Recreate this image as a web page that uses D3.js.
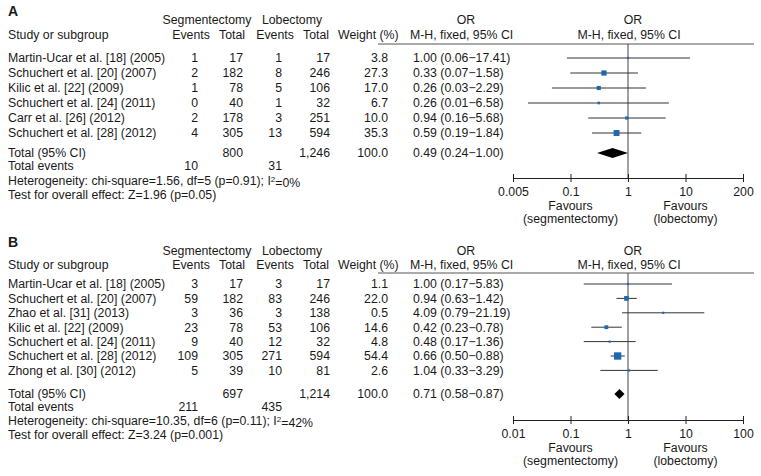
<!DOCTYPE html>
<html><head><meta charset="utf-8">
<script src="https://cdn.jsdelivr.net/npm/d3@7"></script>
<style>
body{margin:0;background:#fff;}
svg text{font-family:"Liberation Sans",Arial,sans-serif;font-size:12.3px;fill:#1a1a1a;}
</style></head><body>
<svg id="chart" width="761" height="476"></svg>
<script>
// ---------- Data: panel A ----------
const studiesA = ["Martin-Ucar et al. [18] (2005)","Schuchert et al. [20] (2007)","Kilic et al. [22] (2009)","Schuchert et al. [24] (2011)","Carr et al. [26] (2012)","Schuchert et al. [28] (2012)"];
const segEventsA = [1,2,1,0,2,4];
const segTotalA  = [17,182,78,40,178,305];
const lobEventsA = [1,8,5,1,3,13];
const lobTotalA  = [17,246,106,32,251,594];
const weightA    = [3.8,27.3,17.0,6.7,10.0,35.3];
const orA        = [1.00,0.33,0.26,0.26,0.94,0.59];
const lowA       = [0.06,0.07,0.03,0.01,0.16,0.19];
const highA      = [17.41,1.58,2.29,6.58,5.68,1.84];
const totalA     = {seg:800, lob:1246, segEv:10, lobEv:31, weight:100.0, or:0.49, lo:0.24, hi:1.00};
const hetA  = ["Heterogeneity: chi-square=1.56, df=5 (p=0.91); I","2","=0%"];
const testA = "Test for overall effect: Z=1.96 (p=0.05)";
const ticksA = ["0.005","0.1","1","10","200"];
const domainA = [0.005,200];

// ---------- Data: panel B ----------
const studiesB = ["Martin-Ucar et al. [18] (2005)","Schuchert et al. [20] (2007)","Zhao et al. [31] (2013)","Kilic et al. [22] (2009)","Schuchert et al. [24] (2011)","Schuchert et al. [28] (2012)","Zhong et al. [30] (2012)"];
const segEventsB = [3,59,3,23,9,109,5];
const segTotalB  = [17,182,36,78,40,305,39];
const lobEventsB = [3,83,3,53,12,271,10];
const lobTotalB  = [17,246,138,106,32,594,81];
const weightB    = [1.1,22.0,0.5,14.6,4.8,54.4,2.6];
const orB        = [1.00,0.94,4.09,0.42,0.48,0.66,1.04];
const lowB       = [0.17,0.63,0.79,0.23,0.17,0.50,0.33];
const highB      = [5.83,1.42,21.19,0.78,1.36,0.88,3.29];
const totalB     = {seg:697, lob:1214, segEv:211, lobEv:435, weight:100.0, or:0.71, lo:0.58, hi:0.87};
const hetB  = ["Heterogeneity: chi-square=10.35, df=6 (p=0.11); I","2","=42%"];
const testB = "Test for overall effect: Z=3.24 (p=0.001)";
const ticksB = ["0.01","0.1","1","10","100"];
const domainB = [0.01,100];

const svg = d3.select("#chart");
const fmtComma = d3.format(",");
const f2 = d3.format(".2f");
const f1 = d3.format(".1f");

function panel(o){
  const g = svg.append("g");
  const t = (x,y,s,anchor)=>g.append("text").attr("x",x).attr("y",y).attr("dy","0.35em")
      .attr("text-anchor",anchor||"start").text(s);
  // label
  t(8,o.labelY,o.label).style("font-weight","bold").style("font-size","14px");
  // headers
  t(207,o.h1,"Segmentectomy","middle");
  t(292,o.h1,"Lobectomy","middle");
  t(466,o.h1,"OR","middle");
  t(633,o.h1,"OR","middle");
  t(8,o.h2,"Study or subgroup");
  t(191,o.h2,"Events","middle");
  t(232,o.h2,"Total","middle");
  t(275,o.h2,"Events","middle");
  t(316,o.h2,"Total","middle");
  t(338,o.h2,"Weight (%)");
  t(410,o.h2,"M-H, fixed, 95% CI");
  t(629,o.h2,"M-H, fixed, 95% CI","middle");
  g.append("line").attr("x1",378).attr("x2",754).attr("y1",o.line).attr("y2",o.line)
    .attr("stroke","#555").attr("stroke-width",1);

  const n = o.studies.length;
  const y = d3.scalePoint().domain(d3.range(n)).range([o.rowStart,o.rowStart+o.rowStep*(n-1)]);
  const x = d3.scaleLog().domain(o.domain).range([513,743]);
  const side = d3.scaleSqrt().domain([0,100]).range([0,10]);

  // text rows
  o.studies.forEach((s,i)=>{
    const yy = y(i);
    t(8,yy,s);
    t(198,yy,o.segEv[i],"end");
    t(243,yy,o.segTot[i],"end");
    t(282,yy,o.lobEv[i],"end");
    t(330,yy,fmtComma(o.lobTot[i]),"end");
    t(388,yy,f1(o.w[i]),"end");
    t(413,yy,`${f2(o.or[i])} (${f2(o.lo[i])}\u2212${f2(o.hi[i])})`);
  });
  // totals
  const T = o.total;
  t(8,o.totY,"Total (95% CI)");
  t(243,o.totY,fmtComma(T.seg),"end");
  t(330,o.totY,fmtComma(T.lob),"end");
  t(388,o.totY,f1(T.weight),"end");
  t(413,o.totY,`${f2(T.or)} (${f2(T.lo)}\u2212${f2(T.hi)})`);
  t(8,o.evY,"Total events");
  t(198,o.evY,T.segEv,"end");
  t(282,o.evY,T.lobEv,"end");
  const het = t(8,o.hetY,o.het[0]);
  het.append("tspan").attr("dy","-0.45em").style("font-size","8px").text(o.het[1]);
  het.append("tspan").attr("dy","0.45em").text(o.het[2]);
  t(8,o.testY,o.test);

  // forest: vertical line at 1
  g.append("line").attr("x1",x(1)).attr("x2",x(1)).attr("y1",o.line).attr("y2",o.axisY)
    .attr("stroke","#444").attr("stroke-width",1);
  // CI lines
  o.studies.forEach((s,i)=>{
    g.append("line").attr("x1",x(o.lo[i])).attr("x2",x(o.hi[i])).attr("y1",y(i)).attr("y2",y(i))
      .attr("stroke","#333").attr("stroke-width",1);
    const sd = Math.max(2.2, side(o.w[i]));
    g.append("rect").attr("x",x(o.or[i])-sd/2).attr("y",y(i)-sd/2).attr("width",sd).attr("height",sd)
      .attr("fill","#2068ad");
  });
  // diamond
  const h = 5;
  g.append("path").attr("d",`M${x(T.lo)},${o.totY}L${x(T.or)},${o.totY-h}L${x(T.hi)},${o.totY}L${x(T.or)},${o.totY+h}Z`)
    .attr("fill","#000");

  // axis (tick labels equally spaced as in reference)
  const xt = d3.scalePoint().domain(o.ticks).range([513,743]);
  const ax = g.append("g").attr("transform",`translate(0,${o.axisY})`)
    .call(d3.axisBottom(xt).tickSize(0).tickPadding(9));
  ax.select(".domain").attr("stroke","#222");
  ax.selectAll(".tick line").attr("y1",-4).attr("y2",4).attr("stroke","#222");
  ax.selectAll("text").attr("font-family",null).attr("font-size",null).attr("fill",null);
  t(xt(o.ticks[1]),o.axisY+28,"Favours","middle");
  t(xt(o.ticks[1]),o.axisY+41,"(segmentectomy)","middle");
  t(xt(o.ticks[3]),o.axisY+28,"Favours","middle");
  t(xt(o.ticks[3]),o.axisY+41,"(lobectomy)","middle");
}

panel({label:"A",labelY:11,h1:20,h2:35,line:44,rowStart:58,rowStep:15,totY:153,evY:166,hetY:181,testY:195,axisY:178,
  studies:studiesA,segEv:segEventsA,segTot:segTotalA,lobEv:lobEventsA,lobTot:lobTotalA,w:weightA,or:orA,lo:lowA,hi:highA,
  total:totalA,het:hetA,test:testA,ticks:ticksA,domain:domainA});
panel({label:"B",labelY:242,h1:251,h2:265,line:273,rowStart:284,rowStep:14.4,totY:394,evY:407,hetY:421,testY:435,axisY:420,
  studies:studiesB,segEv:segEventsB,segTot:segTotalB,lobEv:lobEventsB,lobTot:lobTotalB,w:weightB,or:orB,lo:lowB,hi:highB,
  total:totalB,het:hetB,test:testB,ticks:ticksB,domain:domainB});
</script></body></html>
